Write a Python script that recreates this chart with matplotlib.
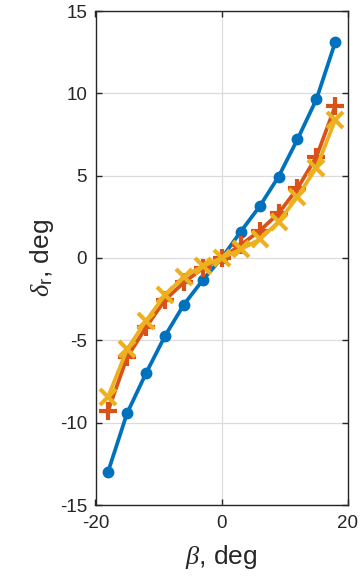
import matplotlib
matplotlib.use("Agg")
import matplotlib.pyplot as plt

beta = [-18, -15, -12, -9, -6, -3, 0, 3, 6, 9, 12, 15, 18]
delta_r_1 = [-12.97, -9.43, -7.0, -4.74, -2.83, -1.34, 0.0, 1.60, 3.13, 4.94, 7.21, 9.64, 13.13]
delta_r_2 = [-9.27, -6.03, -4.21, -2.55, -1.48, -0.63, 0.0, 0.79, 1.65, 2.71, 4.23, 6.15, 9.25]
delta_r_3 = [-8.42, -5.55, -3.81, -2.25, -1.13, -0.49, 0.0, 0.53, 1.13, 2.20, 3.72, 5.49, 8.40]

xticks = [-20, 0, 20]
yticks = [-15, -10, -5, 0, 5, 10, 15]

plt.rcParams['font.family'] = ['Liberation Sans', 'DejaVu Sans']
plt.rcParams['axes.unicode_minus'] = False
plt.rcParams['mathtext.fontset'] = 'custom'
plt.rcParams['mathtext.rm'] = 'Liberation Sans'
plt.rcParams['mathtext.it'] = 'Liberation Serif:italic'

fig = plt.figure(figsize=(3.6, 5.79), dpi=100)
ax = fig.add_axes([95.5/360, 74/579, (348-95.5)/360, (505-11)/579])

c1, c2, c3 = '#0072BD', '#D95319', '#EDB120'
ax.plot(beta, delta_r_1, '-o', color=c1, lw=2.7, ms=7.5, zorder=3)
ax.plot(beta, delta_r_2, '-+', color=c2, lw=2.7, ms=13, mew=3, zorder=4)
ax.plot(beta, delta_r_3, '-x', color=c3, lw=2.7, ms=11, mew=3, zorder=5)

ax.set_xlim(-20, 20)
ax.set_ylim(-15, 15)
ax.set_xticks(xticks)
ax.set_yticks(yticks)
ax.grid(True, color='#dcdcdc', lw=0.9, zorder=0)
ax.set_axisbelow(True)
for s in ax.spines.values():
    s.set_color('#262626')
    s.set_linewidth(1.0)
ax.tick_params(direction='in', top=True, right=True, length=4, width=1.0,
               colors='#262626', labelsize=13.5, labelcolor='#262626')
ax.tick_params(axis='x', pad=7)
ax.tick_params(axis='y', pad=6)

ax.set_xlabel(r'$\beta$, deg', fontsize=19, color='#262626', labelpad=8)
ax.set_ylabel(r'$\delta_{\mathrm{r}}$, deg', fontsize=19, color='#262626', labelpad=3)

fig.savefig('out.png', dpi=100)
